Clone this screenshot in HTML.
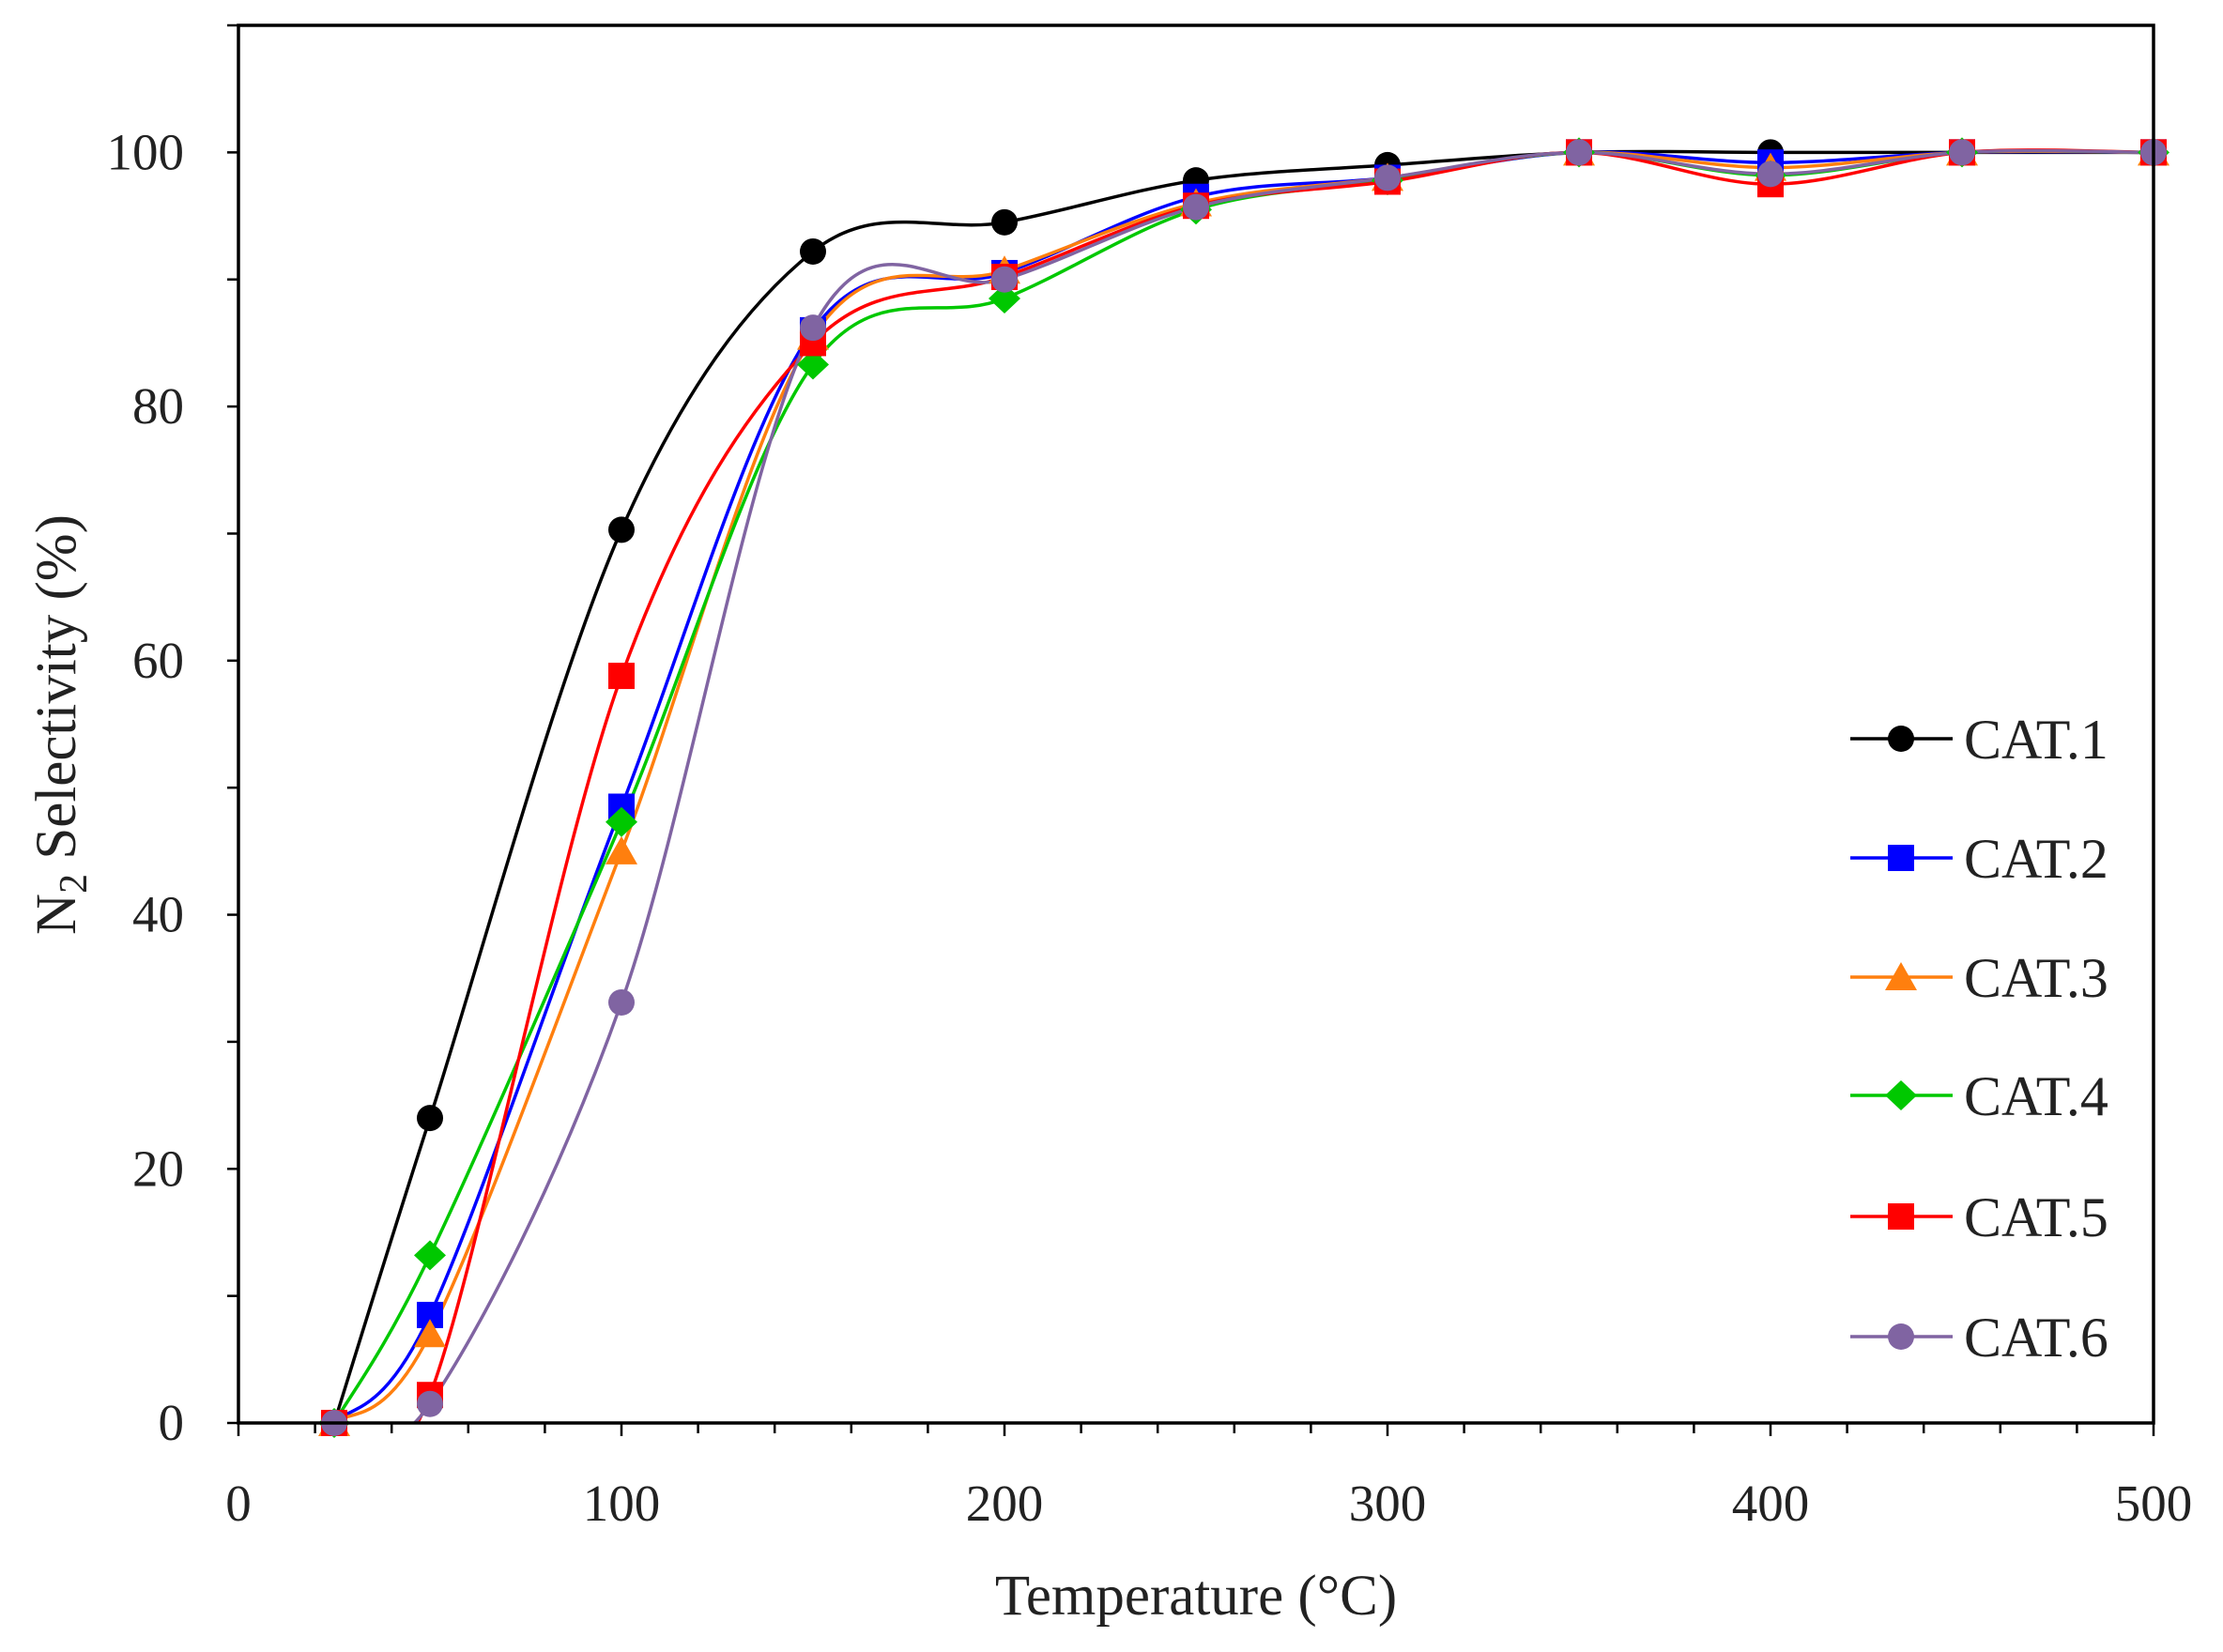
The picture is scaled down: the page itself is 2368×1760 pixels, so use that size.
<!DOCTYPE html>
<html><head><meta charset="utf-8"><style>
html,body{margin:0;padding:0;background:#fff;}
svg{display:block;font-family:"Liberation Serif",serif;}
</style></head><body>
<svg id="chart" width="2368" height="1760" viewBox="0 0 2368 1760" xmlns="http://www.w3.org/2000/svg">
<defs><clipPath id="plotclip"><rect x="254" y="27" width="2040" height="1490"/></clipPath></defs>
<g id="grid"></g>
<g id="series" clip-path="url(#plotclip)"></g>
<g id="markers"></g>
<g id="axes"></g>
<g id="legend"></g>
</svg>
<script>
const temps = [25,50,100,150,200,250,300,350,400,450,500];
const cat1 = [0,24,70.3,92.2,94.5,97.8,99,100,100,100,100];
const cat2 = [0,8.5,48.5,86,90.5,96.5,98,100,99.2,100,100];
const cat3 = [0,7,45,85.5,90.7,96,98,100,98.8,100,100];
const cat4 = [0,13.2,47.3,83.3,88.5,95.5,97.8,100,98.2,100,100];
const cat5 = [0,2.2,58.8,85,90.2,95.8,97.7,100,97.5,100,100];
const cat6 = [0,1.5,33.1,86.2,90,95.7,98,100,98.3,100,100];
const seriesNames = ["CAT.1","CAT.2","CAT.3","CAT.4","CAT.5","CAT.6"];
const xTicks = [0,100,200,300,400,500];
const yTicks = [0,20,40,60,80,100];

const L=254,R=2294,T=27,B=1516;
const xMin=0,xMax=500,yMin=0,yMax=110;
const sx=v=>L+(v-xMin)/(xMax-xMin)*(R-L);
const sy=v=>B-(v-yMin)/(yMax-yMin)*(B-T);
const NS="http://www.w3.org/2000/svg";
function mk(tag,attrs,parent){const e=document.createElementNS(NS,tag);for(const k in attrs)e.setAttribute(k,attrs[k]);parent.appendChild(e);return e;}

const colors=["#000000","#0000ff","#ff7f0e","#00c800","#ff0000","#8064a2"];
const shapes=["circle","square","triangle","diamond","square","circle"];
const allData=[cat1,cat2,cat3,cat4,cat5,cat6];

function marker(shape,cx,cy,col,parent){
  const s=14;let e;
  if(shape==="circle")e=mk("circle",{cx:cx,cy:cy,r:s},parent);
  else if(shape==="square")e=mk("rect",{x:cx-s,y:cy-s,width:2*s,height:2*s},parent);
  else if(shape==="triangle")e=mk("polygon",{points:`${cx},${cy-s-2} ${cx+s+3},${cy+s} ${cx-s-3},${cy+s}`},parent);
  else e=mk("polygon",{points:`${cx},${cy-s-2} ${cx+s+3},${cy} ${cx},${cy+s+2} ${cx-s-3},${cy}`},parent);
  e.setAttribute("fill",col);
  return e;
}
function smoothPath(pts){
  let d=`M${pts[0][0]},${pts[0][1]}`;
  const t=1/6;
  for(let i=0;i<pts.length-1;i++){
    const p0=pts[Math.max(i-1,0)],p1=pts[i],p2=pts[i+1],p3=pts[Math.min(i+2,pts.length-1)];
    const c1=[p1[0]+(p2[0]-p0[0])*t,p1[1]+(p2[1]-p0[1])*t];
    const c2=[p2[0]-(p3[0]-p1[0])*t,p2[1]-(p3[1]-p1[1])*t];
    d+=` C${c1[0]},${c1[1]} ${c2[0]},${c2[1]} ${p2[0]},${p2[1]}`;
  }
  return d;
}

const gS=document.getElementById("series"),gM=document.getElementById("markers"),gA=document.getElementById("axes"),gL=document.getElementById("legend");
allData.forEach((data,si)=>{
  const pts=temps.map((t,i)=>[sx(t),sy(data[i])]);
  const p=mk("path",{d:smoothPath(pts),fill:"none",stroke:colors[si],"stroke-width":3.5},gS);
  
  
});
allData.forEach((data,si)=>{
  temps.forEach((t,i)=>{
    const m=marker(shapes[si],sx(t),sy(data[i]),colors[si],gM);
    
    
  });
});

const frame=mk("rect",{x:L,y:T,width:R-L,height:B-T,fill:"none",stroke:"#000","stroke-width":3.5},gA);


for(let v=0;v<=500;v+=20){
  const major=v%100===0;
  mk("line",{x1:sx(v),x2:sx(v),y1:B,y2:B+(major?14:11),stroke:"#000","stroke-width":2.5},gA);
}
for(let v=0;v<=110;v+=10){
  mk("line",{x1:L-12,x2:L,y1:sy(v),y2:sy(v),stroke:"#000","stroke-width":2.5},gA);
}
xTicks.forEach(v=>{
  const t=mk("text",{x:sx(v),y:1620,"text-anchor":"middle","font-size":55,fill:"#222"},gA);
  t.textContent=v;
  
  
});
yTicks.forEach(v=>{
  const t=mk("text",{x:196,y:sy(v)+18,"text-anchor":"end","font-size":55,fill:"#222"},gA);
  t.textContent=v;
  
  
});
const xt=mk("text",{x:1274,y:1720,"text-anchor":"middle","font-size":61,fill:"#222"},gA);
xt.textContent="Temperature (°C)";


const yt=mk("text",{x:0,y:0,"text-anchor":"middle","font-size":61,fill:"#222",transform:"translate(80,772) rotate(-90)"},gA);
yt.innerHTML='N<tspan font-size="42" dy="12">2</tspan><tspan dy="-12"> Selectivity (%)</tspan>';



const legY=[787,914,1041,1167,1296,1424];
seriesNames.forEach((n,i)=>{
  const g=mk("g",{},gL);
  
  
  mk("line",{x1:1971,x2:2080,y1:legY[i],y2:legY[i],stroke:colors[i],"stroke-width":3.5},g);
  marker(shapes[i],2025,legY[i],colors[i],g);
  const t=mk("text",{x:2092,y:legY[i]+21,"font-size":60,fill:"#222"},g);
  t.textContent=n;
});
</script>
</body></html>
